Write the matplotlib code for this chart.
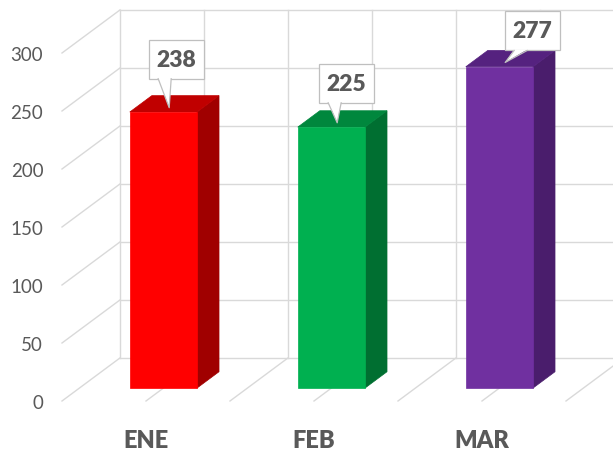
import matplotlib
matplotlib.use("Agg")
import matplotlib.pyplot as plt
from matplotlib.patches import Polygon, Rectangle
from matplotlib.transforms import ScaledTranslation

# --- Data ---
months = ["ENE", "FEB", "MAR"]
values = [238, 225, 277]
front_colors = ["#FF0000", "#00B050", "#7030A0"]
top_colors = ["#C00000", "#00873D", "#55227F"]
side_colors = ["#A00000", "#006F31", "#4A1D6C"]
yticks = [0, 50, 100, 150, 200, 250, 300]

# --- Style ---
GRID = "#D9D9D9"
TEXT = "#595959"
DX, DY = 0.345, 37.1          # depth vector in data units (category, value)
BAR_D0, BAR_D1 = 0.30, 0.68   # bar front / back depth
BAR_W = 0.40
# callout box (left, bottom) in pixels relative to the pointer tip
LABEL_BOX = [(-20, 29), (-18, 20), (0, 12)]
BOX_W, BOX_H = 55, 39

plt.rcParams['font.family'] = ['Lato', 'DejaVu Sans']

fig = plt.figure(figsize=(6.13, 4.52), dpi=100)
ax = fig.add_axes([62 / 613, 50 / 452, 504 / 613, 348 / 452])
ax.set_xlim(-0.5, 2.5)
ax.set_ylim(0, 300)
for s in ax.spines.values():
	s.set_visible(False)


def p(x, v, d):
	"""Oblique projection of (category, value, depth) into data coords."""
	return (x + d * DX, v + d * DY)


def line3(a, b, **kw):
	ax.plot([a[0], b[0]], [a[1], b[1]], color=GRID, lw=1.0, clip_on=False, **kw)


# --- Walls ---
n = len(months)
x0, x1 = -0.5, n - 0.5
for v in yticks:
	# back wall horizontal + left wall diagonal
	line3(p(x0, v, 1), p(x1, v, 1), zorder=1)
	line3(p(x0, v, 0), p(x0, v, 1), zorder=1)
k = 0
while x0 + k * 0.5 <= x1 + 1e-9:
	xv = x0 + k * 0.5
	line3(p(xv, 0, 1), p(xv, 300, 1), zorder=1)
	if k > 0:
		line3(p(xv, 0, 0), p(xv, 0, 1), zorder=1)
	k += 1

# --- Bars ---
for i, (val, fc, tc, sc) in enumerate(zip(values, front_colors, top_colors, side_colors)):
	l, r = i - BAR_W / 2, i + BAR_W / 2
	front = [p(l, 0, BAR_D0), p(r, 0, BAR_D0), p(r, val, BAR_D0), p(l, val, BAR_D0)]
	side = [p(r, 0, BAR_D0), p(r, 0, BAR_D1), p(r, val, BAR_D1), p(r, val, BAR_D0)]
	top = [p(l, val, BAR_D0), p(r, val, BAR_D0), p(r, val, BAR_D1), p(l, val, BAR_D1)]
	for pts, c in ((side, sc), (top, tc), (front, fc)):
		ax.add_patch(Polygon(pts, closed=True, fc=c, ec=c, lw=0.5, zorder=3, clip_on=False))

# --- Callout labels ---
for i, val in enumerate(values):
	tip = p(i, val, BAR_D0 + 0.1)
	tr = fig.dpi_scale_trans + ScaledTranslation(tip[0], tip[1], ax.transData)
	bl, bb = LABEL_BOX[i]
	sc = 1 / 100.0
	ax.add_patch(Rectangle((bl * sc, bb * sc), BOX_W * sc, BOX_H * sc, transform=tr,
	                       fc="white", ec="#BFBFBF", lw=0.9, zorder=5, clip_on=False))
	pl, pr = bl + 9, bl + 22
	ax.add_patch(Polygon([(pl * sc, (bb + 1) * sc), (0, 0), (pr * sc, (bb + 1) * sc)],
	                     closed=True, transform=tr, fc="white", ec="none", zorder=6, clip_on=False))
	ax.plot([pl * sc, 0, pr * sc], [bb * sc, 0, bb * sc], transform=tr, color="#BFBFBF",
	        lw=0.9, zorder=6, clip_on=False)
	ax.text((bl + BOX_W / 2) * sc, (bb + BOX_H / 2) * sc, str(val), transform=tr,
	        ha="center", va="center", fontsize=16.5, fontweight="heavy", color=TEXT, zorder=7)

# --- Axes labels ---
ax.set_yticks(yticks)
ax.set_yticklabels([str(t) for t in yticks], fontsize=13.5, color=TEXT)
ax.set_xticks(range(n))
ax.set_xticklabels(months, fontsize=17, fontweight="heavy", color=TEXT)
ax.tick_params(axis="y", length=0, pad=13.5)
ax.tick_params(axis="x", length=0, pad=20)

fig.savefig("out.png", dpi=100)
